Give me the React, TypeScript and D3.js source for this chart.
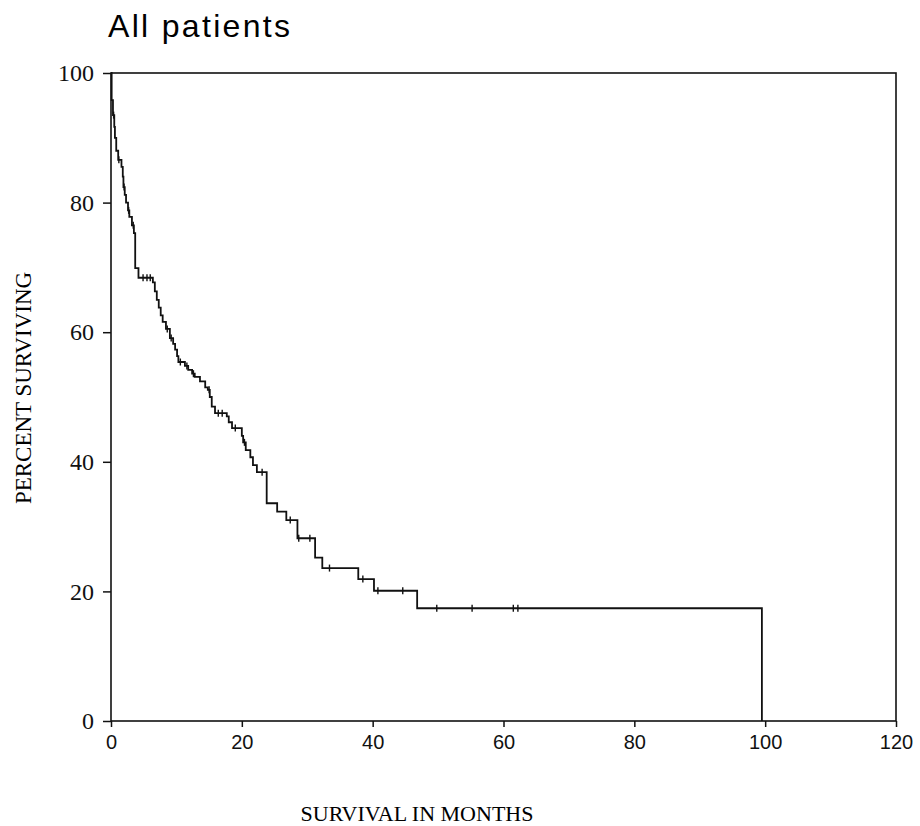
import * as d3 from 'd3'
import { useEffect, useRef } from 'react'

// Kaplan-Meier steps: time of each drop (months) and % surviving after it
const dropMonths = [
  0.1, 0.3, 0.5, 0.6, 0.8, 1.1, 1.6, 1.8, 1.9, 2.1, 2.3, 2.6, 2.8, 3.2, 3.5, 3.7, 4.2,
  6.4, 6.7, 7.0, 7.3, 7.6, 7.9, 8.4, 9.0, 9.5, 9.8, 10.1, 10.3, 11.3, 11.8, 12.4, 12.8,
  13.6, 14.4, 14.8, 15.1, 15.4, 15.9, 17.7, 18.0, 18.5, 20.0, 20.2, 20.6, 21.3, 21.7,
  22.3, 23.8, 25.4, 26.8, 28.5, 31.2, 32.3, 37.8, 40.2, 46.8, 99.5,
]
const survivalPct = [
  95.8, 93.5, 91.7, 90, 88, 86.6, 85.5, 84, 82.4, 81.2, 80, 78.8, 77.8, 76.5, 75.3, 69.9, 68.4,
  67.7, 66.3, 65, 63.8, 62.6, 61.6, 60.5, 59.1, 58.2, 57.3, 56.3, 55.4, 54.8, 54.2, 53.6, 53.1,
  52.4, 51.5, 51.1, 50, 48.5, 47.5, 47, 46.1, 45.2, 44, 43, 41.8, 40.7, 39.5,
  38.4, 33.6, 32.3, 31, 28.2, 25.2, 23.6, 21.9, 20.1, 17.4, 0,
]
// censored observations (tick marks on the curve)
const censorMonths = [
  0.4, 1.2, 2.0, 2.7, 3.4, 4.9, 5.5, 6.0, 8.6, 9.2, 10.6, 11.6, 12.6, 15.0, 16.4, 17.0,
  19.0, 20.4, 23.1, 27.4, 28.7, 30.4, 33.4, 38.5, 40.8, 44.6, 49.8, 55.2, 61.5, 62.2,
]
const xTicks = [0, 20, 40, 60, 80, 100, 120]
const yTicks = [0, 20, 40, 60, 80, 100]

export default function App() {
  const ref = useRef<SVGSVGElement>(null)
  useEffect(() => {
    const el = ref.current
    if (!el) return
    const svg = d3.select(el)
    svg.selectAll('*').remove()

    const x = d3.scaleLinear().domain([0, 120]).range([111, 896])
    const y = d3.scaleLinear().domain([0, 100]).range([721, 73])

    // title
    svg.append('text')
      .attr('x', 108).attr('y', 37)
      .attr('font-family', 'Liberation Sans, Arial, sans-serif')
      .attr('font-size', 32)
      .attr('textLength', 182).attr('lengthAdjust', 'spacing')
      .text('All patients')

    // frame
    svg.append('rect')
      .attr('x', x(0)).attr('y', y(100))
      .attr('width', x(120) - x(0)).attr('height', y(0) - y(100))
      .attr('fill', 'none').attr('stroke', '#111').attr('stroke-width', 1.6)

    const yAxis = svg.append('g')
      .attr('transform', `translate(${x(0)},0)`)
      .call(d3.axisLeft(y).tickValues(yTicks).tickSize(8).tickPadding(9).tickFormat(d3.format('d')))
    yAxis.select('.domain').remove()
    yAxis.selectAll('line').attr('stroke', '#111').attr('stroke-width', 1.5)
    yAxis.selectAll('text')
      .attr('font-family', 'Liberation Serif, Times New Roman, serif')
      .attr('font-size', 24).attr('fill', '#111')

    const xAxis = svg.append('g')
      .attr('transform', `translate(0,${y(0)})`)
      .call(d3.axisBottom(x).tickValues(xTicks).tickSize(6).tickPadding(8).tickFormat(d3.format('d')))
    xAxis.select('.domain').remove()
    xAxis.selectAll('line').attr('stroke', '#111').attr('stroke-width', 1.5)
    xAxis.selectAll('text')
      .attr('font-family', 'Liberation Sans, Arial, sans-serif')
      .attr('font-size', 20).attr('fill', '#111')

    // axis titles
    svg.append('text')
      .attr('x', 417).attr('y', 821)
      .attr('text-anchor', 'middle')
      .attr('font-family', 'Liberation Serif, Times New Roman, serif')
      .attr('font-size', 22)
      .text('SURVIVAL IN MONTHS')
    svg.append('text')
      .attr('transform', 'translate(31,388) rotate(-90)')
      .attr('text-anchor', 'middle')
      .attr('font-family', 'Liberation Serif, Times New Roman, serif')
      .attr('font-size', 23)
      .text('PERCENT SURVIVING')

    // survival curve
    const pts: [number, number][] = [[0, 100], ...dropMonths.map((t, i) => [t, survivalPct[i]] as [number, number])]
    const line = d3.line<[number, number]>()
      .x((d) => x(d[0]))
      .y((d) => y(d[1]))
      .curve(d3.curveStepAfter)
    svg.append('path')
      .attr('d', line(pts))
      .attr('fill', 'none').attr('stroke', '#111').attr('stroke-width', 1.8)

    const survAt = (t: number) => {
      const i = d3.bisectRight(dropMonths, t)
      return i === 0 ? 100 : survivalPct[i - 1]
    }
    svg.append('g').selectAll('line')
      .data(censorMonths)
      .join('line')
      .attr('x1', (d) => x(d)).attr('x2', (d) => x(d))
      .attr('y1', (d) => y(survAt(d)) - 3.5).attr('y2', (d) => y(survAt(d)) + 3.5)
      .attr('stroke', '#111').attr('stroke-width', 1.4)
  }, [])
  return (
    <svg
      ref={ref}
      width={920}
      height={826}
      style={{ position: 'absolute', left: 0, top: 0, background: '#fff' }}
    />
  )
}
